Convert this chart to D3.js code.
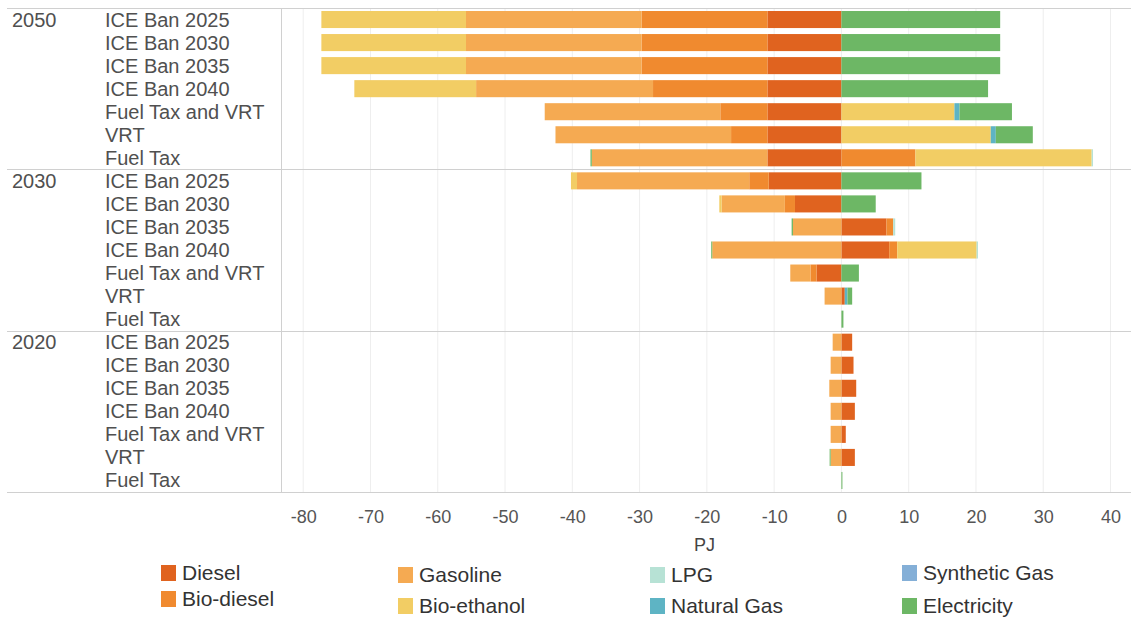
<!DOCTYPE html>
<html>
<head>
<meta charset="utf-8">
<script src="https://cdn.jsdelivr.net/npm/d3@7"></script>
<style>
  body { margin: 0; background: #fff; }
  svg { display: block; font-family: "Liberation Sans", Arial, sans-serif; }
</style>
</head>
<body>
<div id="chart"></div>
<script>
// categories
var years = ["2050", "2030", "2020"];
var scenarios = ["ICE Ban 2025", "ICE Ban 2030", "ICE Ban 2035", "ICE Ban 2040", "Fuel Tax and VRT", "VRT", "Fuel Tax"];
var fuels = ["Diesel", "Bio-diesel", "Gasoline", "Bio-ethanol", "LPG", "Natural Gas", "Synthetic Gas", "Electricity"];
var fuelColors = ["#e0631f", "#f08a2f", "#f5aa52", "#f2cd64", "#b7e2d5", "#5eb4c4", "#84afd7", "#6db765"];
var xTicks = [-80, -70, -60, -50, -40, -30, -20, -10, 0, 10, 20, 30, 40];

// values in PJ, rows: 2050 (7 scenarios), 2030 (7), 2020 (7)
var diesel = [
  -11, -11, -11, -11, -11, -11, -11,
  -10.8, -6.9, 6.7, 7.1, -3.7, 0.5, 0,
  1.6, 1.8, 2.2, 2.0, 0.65, 2.0, 0
];
var bioDiesel = [
  -18.7, -18.7, -18.7, -17.0, -7.0, -5.4, 11.0,
  -2.9, -1.5, 1.0, 1.2, -0.9, 0, 0,
  0, 0, 0, 0, 0, 0, 0
];
var gasoline = [
  -26.1, -26.1, -26.1, -26.3, -26.1, -26.1, -26.1,
  -25.6, -9.4, -7.2, -19.2, -3.0, -2.5, 0,
  -1.3, -1.6, -1.8, -1.6, -1.6, -1.6, 0
];
var bioEthanol = [
  -21.5, -21.5, -21.5, -18.1, 16.8, 22.2, 26.2,
  -0.9, -0.35, 0, 11.8, 0, 0, 0,
  0, 0, 0, 0, 0, 0, 0
];
var lpg = [
  0, 0, 0, 0, 0, 0, 0.2,
  0, 0, 0.3, 0.2, 0, 0, 0,
  0, 0, 0, 0, 0, 0, 0
];
var naturalGas = [
  0, 0, 0, 0, 0.75, 0.75, 0,
  0, 0, 0, 0, 0, 0.4, 0,
  0, 0, 0, 0, 0, 0, 0
];
var syntheticGas = [
  0, 0, 0, 0, 0, 0, 0,
  0, 0, 0, 0, 0, 0, 0,
  0, 0, 0, 0, 0, 0, 0
];
var electricity = [
  23.6, 23.6, 23.6, 21.8, 7.8, 5.5, -0.2,
  11.9, 5.1, -0.2, -0.15, 2.6, 0.7, 0.3,
  0, 0, 0, 0, 0, -0.15, 0.15
];
var series = [diesel, bioDiesel, gasoline, bioEthanol, lpg, naturalGas, syntheticGas, electricity];

// build rows table
var rows = [];
years.forEach(function(yr, gi) {
  scenarios.forEach(function(sc, si) {
    var idx = gi * scenarios.length + si;
    var row = { id: yr + "|" + sc, year: yr, scenario: sc, first: si === 0 };
    fuels.forEach(function(f, fi) { row[f] = series[fi][idx]; });
    rows.push(row);
  });
});

var width = 1131, height = 622;
var plotLeft = 281, plotRight = 1128, plotTop = 8, plotBottom = 492;

var svg = d3.select("#chart").append("svg")
  .attr("width", width)
  .attr("height", height);

var x = d3.scaleLinear()
  .domain([-83.3, 42.6])
  .range([plotLeft, plotRight]);

var y = d3.scaleBand()
  .domain(rows.map(function(d) { return d.id; }))
  .range([plotTop, plotBottom])
  .paddingInner(0.26)
  .paddingOuter(0.13);

var color = d3.scaleOrdinal().domain(fuels).range(fuelColors);

// gridlines
svg.append("g")
  .selectAll("line")
  .data(xTicks)
  .enter().append("line")
    .attr("x1", function(d) { return x(d); })
    .attr("x2", function(d) { return x(d); })
    .attr("y1", plotTop)
    .attr("y2", plotBottom)
    .attr("stroke", "#eeeeee")
    .attr("stroke-width", 1);

// stacked diverging bars
var stack = d3.stack()
  .keys(fuels)
  .offset(d3.stackOffsetDiverging);

var layers = stack(rows);

svg.append("g")
  .selectAll("g")
  .data(layers)
  .enter().append("g")
    .attr("fill", function(d) { return color(d.key); })
  .selectAll("rect")
  .data(function(d) { return d; })
  .enter().append("rect")
    .attr("x", function(d) { return x(Math.min(d[0], d[1])); })
    .attr("width", function(d) { return Math.abs(x(d[1]) - x(d[0])); })
    .attr("y", function(d) { return y(d.data.id); })
    .attr("height", y.bandwidth());

// group separators and frame lines
var sepY = [plotTop, y(rows[7].id) - y.step() * 0.13, y(rows[14].id) - y.step() * 0.13, plotBottom];
svg.append("g")
  .selectAll("line")
  .data(sepY)
  .enter().append("line")
    .attr("x1", 7)
    .attr("x2", width)
    .attr("y1", function(d) { return Math.round(d) + 0.5; })
    .attr("y2", function(d) { return Math.round(d) + 0.5; })
    .attr("stroke", "#d0d0d0");

svg.append("line")
  .attr("x1", plotLeft + 0.5)
  .attr("x2", plotLeft + 0.5)
  .attr("y1", plotTop)
  .attr("y2", plotBottom)
  .attr("stroke", "#d0d0d0");

// row labels
svg.append("g")
  .selectAll("text")
  .data(rows)
  .enter().append("text")
    .attr("x", 105)
    .attr("y", function(d) { return y(d.id) + y.bandwidth() / 2 + 7; })
    .attr("font-size", 20)
    .attr("fill", "#505050")
    .text(function(d) { return d.scenario; });

// year labels
svg.append("g")
  .selectAll("text")
  .data(rows.filter(function(d) { return d.first; }))
  .enter().append("text")
    .attr("x", 12)
    .attr("y", function(d) { return y(d.id) + y.bandwidth() / 2 + 7; })
    .attr("font-size", 20)
    .attr("fill", "#505050")
    .text(function(d) { return d.year; });

// x axis labels
var xAxis = d3.axisBottom(x)
  .tickValues(xTicks)
  .tickFormat(function(d) { return String(d); })
  .tickSize(0)
  .tickPadding(18);

var axisG = svg.append("g")
  .attr("transform", "translate(0," + plotBottom + ")")
  .call(xAxis);
axisG.select(".domain").remove();
axisG.selectAll("text")
  .attr("font-size", 18)
  .attr("font-family", "Liberation Sans, Arial, sans-serif")
  .attr("fill", "#555");

svg.append("text")
  .attr("x", (plotLeft + plotRight) / 2)
  .attr("y", 551)
  .attr("text-anchor", "middle")
  .attr("font-size", 18)
  .attr("fill", "#444")
  .text("PJ");

// legend
var legendCols = [161, 398, 650, 902];
var legendRowY = [[573, 599], [575, 606], [575, 606], [573, 606]];
var legendItems = fuels.map(function(f, i) {
  var col = Math.floor(i / 2), r = i % 2;
  return { name: f, x: legendCols[col], y: legendRowY[col][r] };
});

var leg = svg.append("g")
  .selectAll("g")
  .data(legendItems)
  .enter().append("g")
    .attr("transform", function(d) { return "translate(" + d.x + "," + d.y + ")"; });

leg.append("rect")
  .attr("x", 0)
  .attr("y", -8)
  .attr("width", 15)
  .attr("height", 16)
  .attr("fill", function(d) { return color(d.name); });

leg.append("text")
  .attr("x", 21)
  .attr("y", 7)
  .attr("font-size", 21)
  .attr("fill", "#333")
  .text(function(d) { return d.name; });
</script>
</body>
</html>
